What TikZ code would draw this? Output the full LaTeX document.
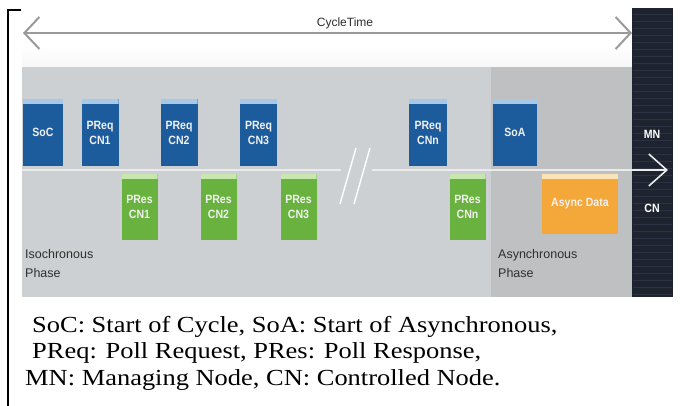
\documentclass[tikz,border=0pt]{standalone}
\usepackage{fontspec}
\setmainfont{Liberation Serif}
\newfontfamily\capfont[FakeStretch=1.15]{Liberation Serif}
\newfontfamily\lsans{Liberation Sans}
\newfontfamily\blkfont[FakeStretch=0.88]{Liberation Sans Bold}
\usetikzlibrary{arrows.meta}
\definecolor{bgray}{HTML}{CDD0D2}
\definecolor{agray}{HTML}{BEC0C2}
\definecolor{dbar}{HTML}{1E2330}
\definecolor{dstripe}{HTML}{2C3242}
\definecolor{pblue}{HTML}{1D5C9C}
\definecolor{lblue}{HTML}{A8C8E8}
\definecolor{pgreen}{HTML}{6AB23F}
\definecolor{lgreen}{HTML}{C8E6B0}
\definecolor{porange}{HTML}{F4A83A}
\definecolor{lorange}{HTML}{FCE3B8}
\definecolor{arrgray}{HTML}{9A9A9A}
\definecolor{phtext}{HTML}{2E2E2E}
\tikzset{
  blk/.style={inner sep=0pt, align=center, text=white!94!black,
    font=\blkfont\fontsize{12}{15}\selectfont},
  bluebox/.style={blk, fill=pblue, minimum width=37pt, minimum height=67pt,
    path picture={\fill[lblue] (path picture bounding box.north west) rectangle ([yshift=-5pt]path picture bounding box.north east);}},
  greenbox/.style={blk, fill=pgreen, minimum width=36pt, minimum height=66pt,
    path picture={\fill[lgreen] (path picture bounding box.north west) rectangle ([yshift=-5pt]path picture bounding box.north east);}},
  orangebox/.style={blk, fill=porange, minimum width=76pt, minimum height=60pt,
    path picture={\fill[lorange] (path picture bounding box.north west) rectangle ([yshift=-5pt]path picture bounding box.north east);}},
  phase/.style={anchor=north west, inner sep=0pt, align=left, text=phtext,
    font=\lsans\fontsize{12.5}{19}\selectfont},
  caption/.style={anchor=base west, inner sep=0pt,
    font=\capfont\fontsize{23}{27}\selectfont},
  cyclearrow/.style={draw=arrgray, line width=2pt,
    {Straight Barb[length=15pt,width=32pt]}-{Straight Barb[length=15pt,width=32pt]}},
  busline/.style={draw=white!92!black, line width=1.6pt},
}
\begin{document}
\begin{tikzpicture}[x=1pt,y=-1pt]
\useasboundingbox (0,0) rectangle (680,406);
\fill[white] (0,0) rectangle (680,406);
% background regions
\shade[top color=white, bottom color=white!93!blue!40!gray!10] (22,45) rectangle (632,67);
\fill[bgray] (22,67) rectangle (632,297);
\fill[agray] (491,67) rectangle (632,297);
\fill[dbar] (632,8) rectangle (673,297);
\foreach \yy in {14,21,...,294} \draw[dstripe, line width=0.7pt] (633,\yy) -- (672,\yy);
% frame marks
\draw[black, line width=2pt] (8,10) -- (8,406);
\draw[black, line width=2pt] (7,10) -- (21,10);
% cycle time
\coordinate (ctl) at (23,33);
\coordinate (ctr) at (632,33);
\draw[cyclearrow] (ctl) -- (ctr);
\node[inner sep=0pt, text=phtext, font=\lsans\fontsize{12}{14}\selectfont] (ct) at (345,23) {CycleTime};
% bus line
\coordinate (hl) at (22,170);
\coordinate (b1) at (341,170);
\coordinate (b2) at (372,170);
\coordinate (hr) at (668,170);
\draw[busline] (hl) -- (b1);
\draw[busline, -{Straight Barb[length=18pt,width=32pt]}] (b2) -- (hr);
\draw[white, line width=1.4pt] (340,204) -- (356,148);
\draw[white, line width=1.4pt] (354,204) -- (370,148);
% blue blocks
\node[bluebox, minimum width=40pt] (soc) at (43,132.5) {SoC};
\node[bluebox] (preq1) at (100,132.5) {PReq\\CN1};
\node[bluebox] (preq2) at (179,132.5) {PReq\\CN2};
\node[bluebox] (preq3) at (258.5,132.5) {PReq\\CN3};
\node[bluebox, minimum width=38pt] (preqn) at (428,132.5) {PReq\\CNn};
\node[bluebox, minimum width=44pt] (soa) at (515,132.5) {SoA};
% green blocks
\node[greenbox] (pres1) at (139.5,207) {PRes\\CN1};
\node[greenbox] (pres2) at (218.5,207) {PRes\\CN2};
\node[greenbox] (pres3) at (298.5,207) {PRes\\CN3};
\node[greenbox] (presn) at (467.5,207) {PRes\\CNn};
\node[orangebox] (async) at (580,204) {Async Data};
% MN / CN
\node[inner sep=0pt, text=white, font=\blkfont\fontsize{12}{14}\selectfont] (mn) at (652,134) {MN};
\node[inner sep=0pt, text=white, font=\blkfont\fontsize{12}{14}\selectfont] (cn) at (652,208) {CN};
% phases
\node[phase] (iso) at (25,249) {Isochronous\\Phase};
\node[phase] (asy) at (498,249) {Asynchronous\\Phase};
% caption
\node[caption] (c1) at (32,332) {SoC: Start of Cycle, SoA: Start of Asynchronous,};
\node[caption] (c2) at (32,358) {PReq: Poll Request, PRes: Poll Response,};
\node[caption] (c3) at (25,385) {MN: Managing Node, CN: Controlled Node.};
\end{tikzpicture}
\end{document}
